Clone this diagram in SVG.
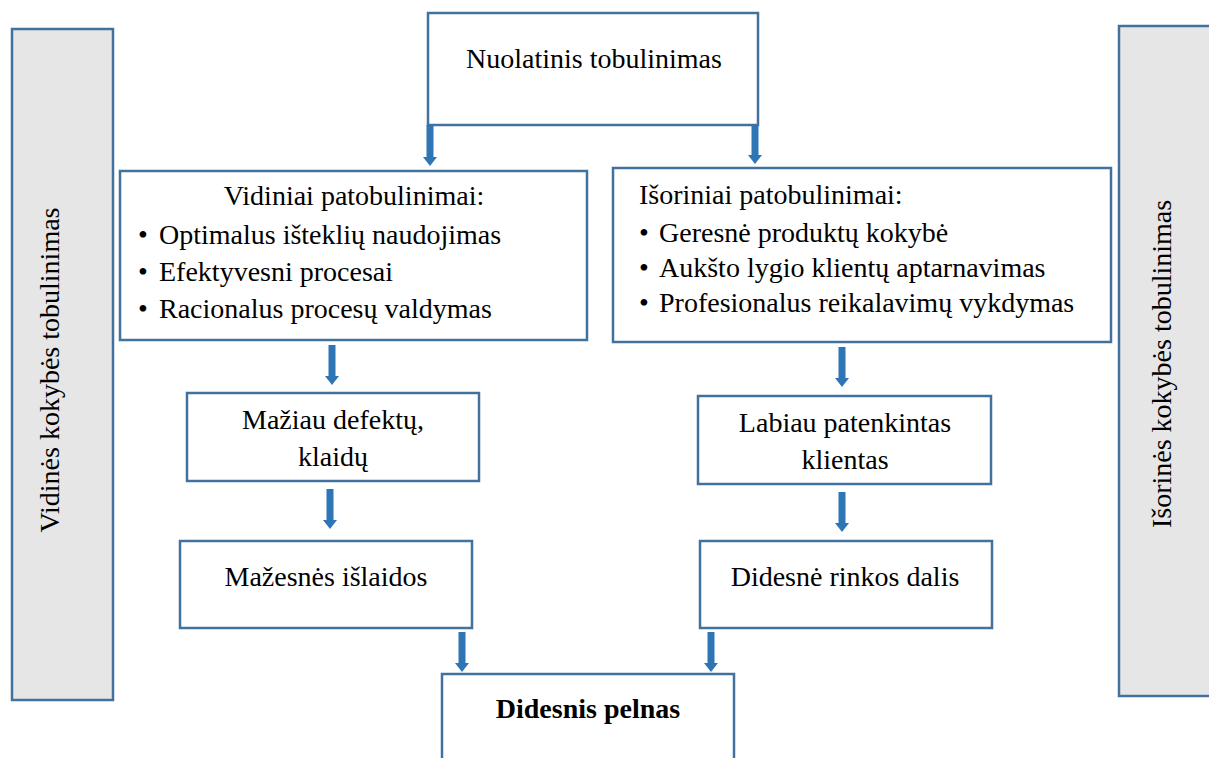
<svg xmlns="http://www.w3.org/2000/svg" width="1209" height="758" viewBox="0 0 1209 758">
<style>
.box{fill:#fff;stroke:#41719c;stroke-width:2.5}
.side{fill:#e6e6e6;stroke:#41719c;stroke-width:2.5}
.t{font-family:"Liberation Serif","Times New Roman",serif;font-size:28px;fill:#000}
.c{text-anchor:middle}
.b{font-weight:bold}
.arr{stroke:#2e75b6;stroke-width:7;fill:none;marker-end:url(#ah)}
</style>
<defs>
<marker id="ah" markerUnits="userSpaceOnUse" viewBox="0 0 9 14" markerWidth="9" markerHeight="14" refX="0" refY="7" orient="auto">
<path d="M0,0 L9,7 L0,14 Z" fill="#2e75b6"/>
</marker>
</defs>
<rect width="1209" height="758" fill="#fff"/>
<g id="side-left">
<rect class="side" x="12" y="29" width="101" height="671"/>
<text class="t c" transform="translate(59,370) rotate(-90)">Vidinės kokybės tobulinimas</text>
</g>
<g id="side-right">
<rect class="side" x="1119" y="26" width="100" height="670"/>
<text class="t c" transform="translate(1171,364) rotate(-90)">Išorinės kokybės tobulinimas</text>
</g>
<g id="top">
<rect class="box" x="428" y="13" width="330" height="112"/>
<text class="t c" x="594" y="68">Nuolatinis tobulinimas</text>
</g>
<g id="vidiniai">
<rect class="box" x="120" y="171" width="467" height="169"/>
<text class="t c" x="354" y="205">Vidiniai patobulinimai:</text>
<text class="t" y="244"><tspan x="138">•</tspan><tspan x="159">Optimalus išteklių naudojimas</tspan></text>
<text class="t" y="281"><tspan x="138">•</tspan><tspan x="159">Efektyvesni procesai</tspan></text>
<text class="t" y="318"><tspan x="138">•</tspan><tspan x="159">Racionalus procesų valdymas</tspan></text>
</g>
<g id="isoriniai">
<rect class="box" x="613" y="168" width="498" height="174"/>
<text class="t" x="639" y="204">Išoriniai patobulinimai:</text>
<text class="t" y="242"><tspan x="639">•</tspan><tspan x="659">Geresnė produktų kokybė</tspan></text>
<text class="t" y="277"><tspan x="639">•</tspan><tspan x="659">Aukšto lygio klientų aptarnavimas</tspan></text>
<text class="t" y="312"><tspan x="639">•</tspan><tspan x="659">Profesionalus reikalavimų vykdymas</tspan></text>
</g>
<g id="maziau">
<rect class="box" x="187" y="393" width="292" height="88"/>
<text class="t c" x="333" y="429">Mažiau defektų,</text>
<text class="t c" x="333" y="466">klaidų</text>
</g>
<g id="mazesnes">
<rect class="box" x="180" y="541" width="292" height="87"/>
<text class="t c" x="326" y="586">Mažesnės išlaidos</text>
</g>
<g id="labiau">
<rect class="box" x="698" y="396" width="293" height="88"/>
<text class="t c" x="845" y="432">Labiau patenkintas</text>
<text class="t c" x="845" y="469">klientas</text>
</g>
<g id="didesne">
<rect class="box" x="700" y="541" width="292" height="87"/>
<text class="t c" x="845" y="586">Didesnė rinkos dalis</text>
</g>
<g id="pelnas">
<rect class="box" x="442" y="674" width="292" height="100"/>
<text class="t c b" x="588" y="718">Didesnis pelnas</text>
</g>
<g id="connectors">
<path class="arr" d="M430,125 V157"/>
<path class="arr" d="M755,125 V155"/>
<path class="arr" d="M332,345 V376"/>
<path class="arr" d="M330,489 V520"/>
<path class="arr" d="M462,632 V663"/>
<path class="arr" d="M842,347 V378"/>
<path class="arr" d="M842,492 V523"/>
<path class="arr" d="M711,632 V663"/>
</g>
</svg>
